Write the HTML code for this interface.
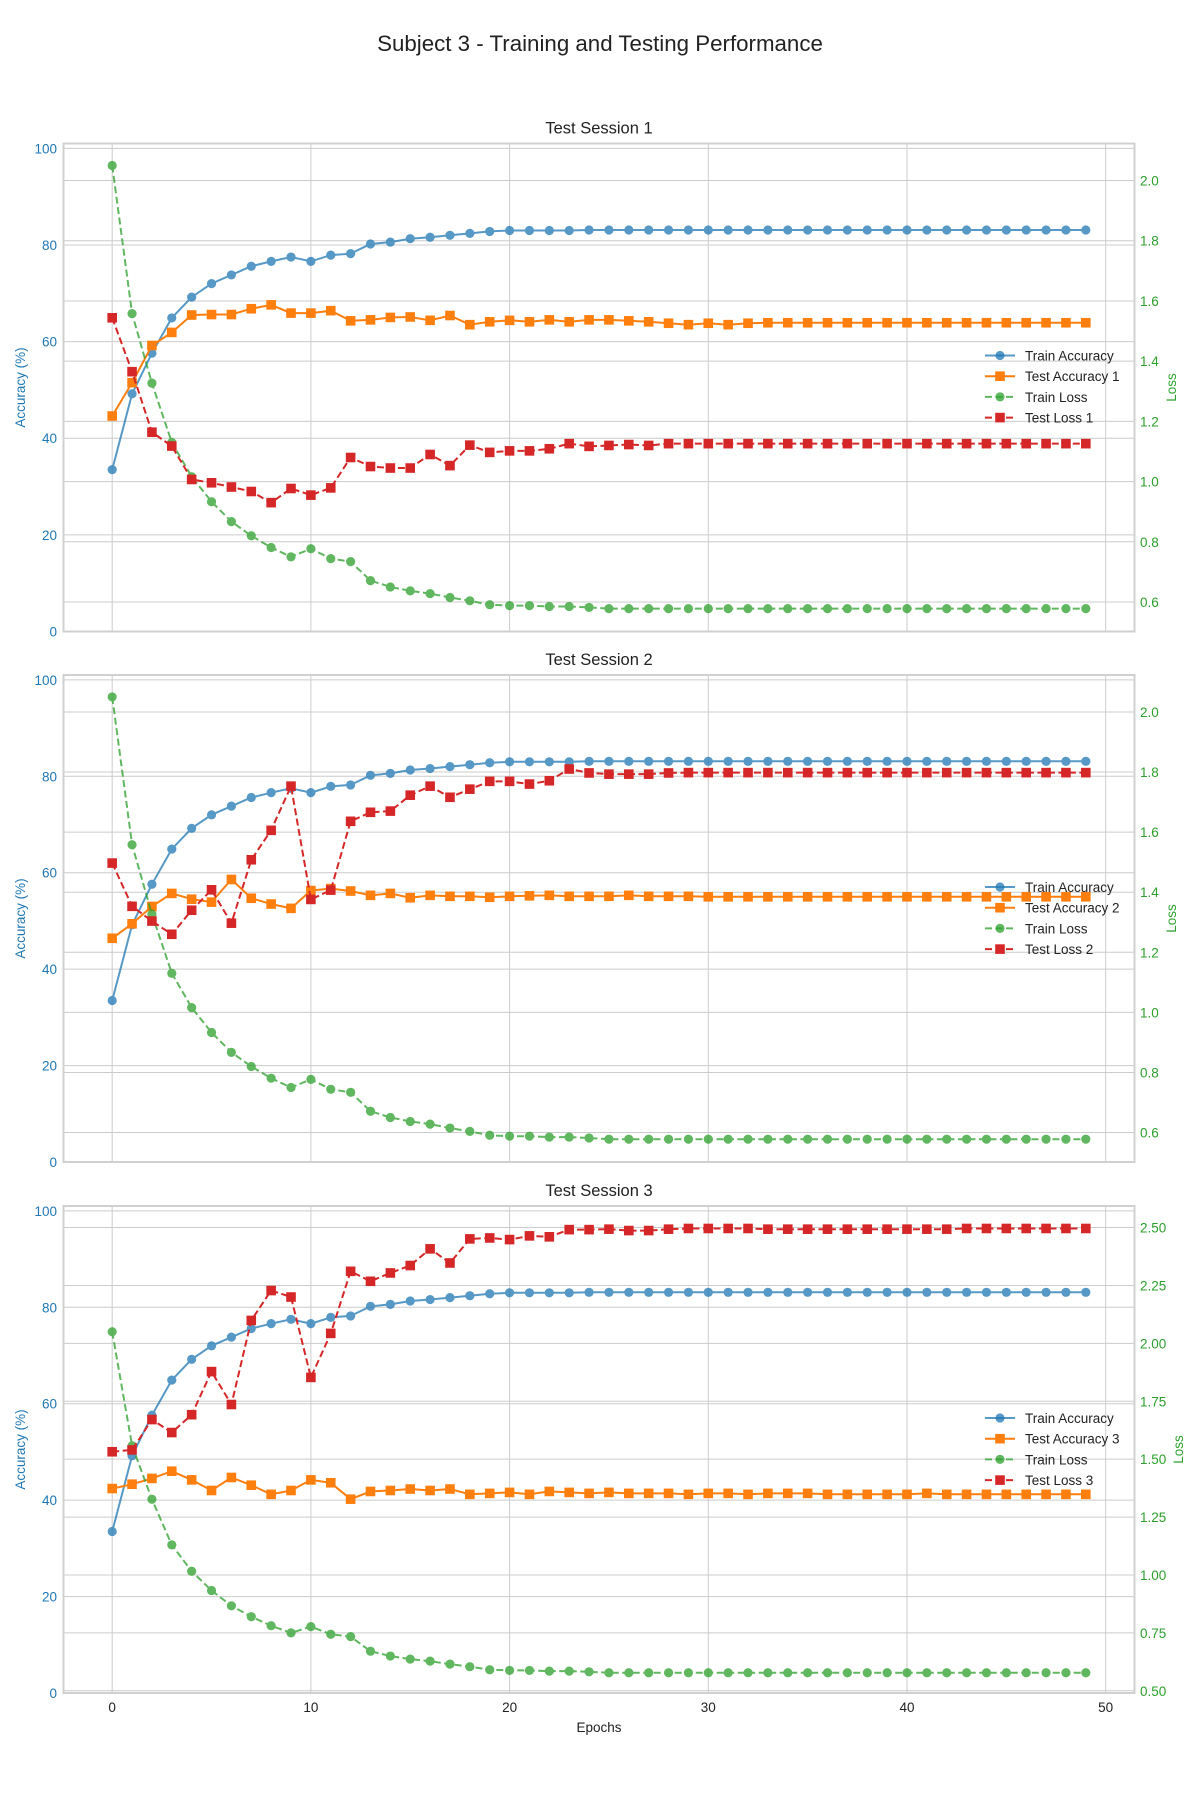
<!DOCTYPE html>
<html><head><meta charset="utf-8">
<style>
html,body{margin:0;padding:0;background:#fff;}
svg{display:block;font-family:"Liberation Sans",Arial,sans-serif;}
</style></head>
<body>
<svg id="chart" width="1200" height="1800" viewBox="0 0 1200 1800" xmlns="http://www.w3.org/2000/svg">
<text x="600" y="51" text-anchor="middle" font-size="22.3" fill="#222">Subject 3 - Training and Testing Performance</text>
</svg>
<script>
const epochs = Array.from({length:50},(_,i)=>i);
const xTicks = [0,10,20,30,40,50];
const accTicks = [0,20,40,60,80,100];
const lossTicks12 = [0.6,0.8,1.0,1.2,1.4,1.6,1.8,2.0];
const lossTicks3 = [0.5,0.75,1.0,1.25,1.5,1.75,2.0,2.25,2.5];
const sessionTitles = ["Test Session 1","Test Session 2","Test Session 3"];

const trainAcc = [33.5,49.2,57.6,64.9,69.2,72.0,73.8,75.6,76.6,77.5,76.6,77.9,78.2,80.2,80.6,81.3,81.6,82.0,82.4,82.8,83.0,83.0,83.0,83.0,83.1,83.1,83.1,83.1,83.1,83.1,83.1,83.1,83.1,83.1,83.1,83.1,83.1,83.1,83.1,83.1,83.1,83.1,83.1,83.1,83.1,83.1,83.1,83.1,83.1,83.1];
const trainLoss = [2.050,1.558,1.327,1.130,1.016,0.933,0.867,0.820,0.781,0.750,0.777,0.744,0.734,0.671,0.650,0.637,0.628,0.615,0.604,0.591,0.588,0.588,0.585,0.585,0.582,0.578,0.578,0.578,0.578,0.578,0.578,0.578,0.578,0.578,0.578,0.578,0.578,0.578,0.578,0.578,0.578,0.578,0.578,0.578,0.578,0.578,0.578,0.578,0.578,0.578];

const testAcc1 = [44.6,51.5,59.2,61.9,65.5,65.6,65.6,66.8,67.6,65.9,65.9,66.4,64.3,64.5,65.0,65.1,64.4,65.4,63.5,64.1,64.4,64.1,64.5,64.1,64.5,64.5,64.3,64.1,63.8,63.5,63.8,63.5,63.8,63.9,63.9,63.9,63.9,63.9,63.9,63.9,63.9,63.9,63.9,63.9,63.9,63.9,63.9,63.9,63.9,63.9];
const testLoss1 = [1.544,1.365,1.164,1.118,1.007,0.996,0.982,0.967,0.930,0.977,0.955,0.979,1.080,1.050,1.045,1.045,1.090,1.053,1.121,1.097,1.102,1.102,1.109,1.126,1.117,1.120,1.123,1.120,1.126,1.126,1.126,1.126,1.126,1.126,1.126,1.126,1.126,1.126,1.126,1.126,1.126,1.126,1.126,1.126,1.126,1.126,1.126,1.126,1.126,1.126];

const testAcc2 = [46.4,49.4,53.0,55.7,54.5,53.9,58.6,54.7,53.5,52.6,56.3,56.7,56.2,55.3,55.7,54.8,55.3,55.1,55.1,54.9,55.1,55.2,55.3,55.1,55.1,55.1,55.3,55.1,55.1,55.1,55.0,55.0,55.0,55.0,55.0,55.0,55.0,55.0,55.0,55.0,55.0,55.0,55.0,55.0,55.0,55.0,55.0,55.0,55.0,55.0];
const testLoss2 = [1.497,1.353,1.304,1.260,1.340,1.408,1.297,1.508,1.606,1.753,1.376,1.407,1.636,1.666,1.670,1.723,1.753,1.716,1.743,1.769,1.769,1.760,1.771,1.810,1.797,1.793,1.793,1.793,1.797,1.798,1.798,1.798,1.798,1.798,1.798,1.798,1.798,1.798,1.798,1.798,1.798,1.798,1.798,1.798,1.798,1.798,1.798,1.798,1.798,1.798];

const testAcc3 = [42.4,43.3,44.5,46.0,44.2,42.0,44.7,43.1,41.2,42.0,44.2,43.6,40.2,41.8,42.0,42.3,42.0,42.3,41.2,41.4,41.6,41.2,41.8,41.6,41.4,41.6,41.4,41.4,41.4,41.2,41.4,41.4,41.2,41.4,41.4,41.4,41.2,41.2,41.2,41.2,41.2,41.4,41.2,41.2,41.2,41.2,41.2,41.2,41.2,41.2];
const testLoss3 = [1.532,1.540,1.671,1.615,1.692,1.878,1.736,2.099,2.228,2.200,1.853,2.043,2.311,2.268,2.304,2.336,2.408,2.347,2.451,2.455,2.448,2.464,2.460,2.491,2.491,2.493,2.487,2.487,2.493,2.496,2.496,2.496,2.496,2.493,2.493,2.493,2.493,2.493,2.493,2.493,2.493,2.493,2.493,2.496,2.496,2.496,2.496,2.496,2.496,2.496];

const NS = "http://www.w3.org/2000/svg";
const svg = document.getElementById('chart');
const L = 63.5, R = 1134.5, XMIN = -2.45, XMAX = 51.45;
const xScale = v => L + (v - XMIN) / (XMAX - XMIN) * (R - L);
const panels = [
  {top:143.5,bottom:631.5,accT:testAcc1,lossT:testLoss1,lmin:0.502,lmax:2.123,ticks:lossTicks12,dec:1,n:1},
  {top:675,bottom:1162,accT:testAcc2,lossT:testLoss2,lmin:0.502,lmax:2.123,ticks:lossTicks12,dec:1,n:2},
  {top:1206,bottom:1693,accT:testAcc3,lossT:testLoss3,lmin:0.4905,lmax:2.593,ticks:lossTicks3,dec:2,n:3}
];
function mk(tag, attrs, parent){const e=document.createElementNS(NS,tag);for(const k in attrs)e.setAttribute(k,attrs[k]);(parent||svg).appendChild(e);return e;}
const C = {blue:'#1f77b4',orange:'#ff7f0e',green:'#2ca02c',red:'#d62728'};

panels.forEach((p,pi)=>{
  const g = mk('g',{});
  
  
  const H = p.bottom - p.top;
  const yAcc = v => p.bottom - v/101*H;
  const yLoss = v => p.bottom - (v - p.lmin)/(p.lmax - p.lmin)*H;
  xTicks.forEach(t=>{const l=mk('line',{x1:xScale(t),x2:xScale(t),y1:p.top,y2:p.bottom,stroke:'#cccccc','stroke-width':1},g);
    });
  accTicks.forEach(t=>{const l=mk('line',{x1:L,x2:R,y1:yAcc(t),y2:yAcc(t),stroke:'#cccccc','stroke-width':1},g);
    
    const tx=mk('text',{x:57,y:yAcc(t)+5,'text-anchor':'end','font-size':13.5,fill:C.blue},g);tx.textContent=t;
    });
  p.ticks.forEach(t=>{const l=mk('line',{x1:L,x2:R,y1:yLoss(t),y2:yLoss(t),stroke:'#cccccc','stroke-width':1},g);
    
    const tx=mk('text',{x:1140,y:yLoss(t)+5,'font-size':13.5,fill:C.green},g);tx.textContent=t.toFixed(p.dec);
    });
  const fr=mk('rect',{x:L,y:p.top,width:R-L,height:H,fill:'none',stroke:'#d0d0d0','stroke-width':2},g);
  
  const st=mk('text',{x:(L+R)/2,y:p.top-10,'text-anchor':'middle','font-size':16.5,fill:'#222'},g);st.textContent=sessionTitles[pi];
  
  const cy=(p.top+p.bottom)/2;
  const yl=mk('text',{x:0,y:0,'text-anchor':'middle','font-size':13.5,fill:C.blue,transform:`translate(25,${cy}) rotate(-90)`},g);yl.textContent='Accuracy (%)';
  
  const rx = p.dec===2?1183:1176;
  const yr=mk('text',{x:0,y:0,'text-anchor':'middle','font-size':13.5,fill:C.green,transform:`translate(${rx},${cy}) rotate(-90)`},g);yr.textContent='Loss';
  

  const series = [
    {data:trainAcc,y:yAcc,color:C.blue,dash:null,mk:'c',op:0.75,name:'train-accuracy'},
    {data:p.accT,y:yAcc,color:C.orange,dash:null,mk:'s',op:1,name:'test-accuracy'},
    {data:trainLoss,y:yLoss,color:C.green,dash:'7,3.5',mk:'c',op:0.75,name:'train-loss'},
    {data:p.lossT,y:yLoss,color:C.red,dash:'7,3.5',mk:'s',op:1,name:'test-loss'}
  ];
  series.forEach(s=>{
    const sg=mk('g',{opacity:s.op},g);
    
    const pts=s.data.map((v,i)=>xScale(epochs[i]).toFixed(1)+','+s.y(v).toFixed(1)).join(' ');
    const a={points:pts,fill:'none',stroke:s.color,'stroke-width':2};if(s.dash)a['stroke-dasharray']=s.dash;
    const pl=mk('polyline',a,sg);
    
    s.data.forEach((v,i)=>{const x=xScale(epochs[i]),y=s.y(v);let m;
      if(s.mk==='c')m=mk('circle',{cx:x,cy:y,r:4.6,fill:s.color},sg);
      else m=mk('rect',{x:x-4.8,y:y-4.8,width:9.6,height:9.6,fill:s.color},sg);
      });
  });
  const lg=mk('g',{},g);
  
  const labels=['Train Accuracy','Test Accuracy '+p.n,'Train Loss','Test Loss '+p.n];
  series.forEach((s,i)=>{const y=p.top+212+i*20.7;
    const eg=mk('g',{},lg);
    const a={x1:985,x2:1015,y1:y,y2:y,stroke:s.color,'stroke-width':2,opacity:s.op};if(s.dash)a['stroke-dasharray']='7,3.5';
    mk('line',a,eg);
    if(s.mk==='c')mk('circle',{cx:1000,cy:y,r:4.6,fill:s.color,opacity:s.op},eg);else mk('rect',{x:995.2,y:y-4.8,width:9.6,height:9.6,fill:s.color},eg);
    const t=mk('text',{x:1025,y:y+5,'font-size':13.5,fill:'#222'},eg);t.textContent=labels[i];});
  if(pi===2){xTicks.forEach(t=>{const tx=mk('text',{x:xScale(t),y:p.bottom+19,'text-anchor':'middle','font-size':13.5,fill:'#222'},g);tx.textContent=t;
      });
    const xl=mk('text',{x:(L+R)/2,y:p.bottom+39,'text-anchor':'middle','font-size':13.5,fill:'#222'},g);xl.textContent='Epochs';
    }
});
</script>
</body></html>
